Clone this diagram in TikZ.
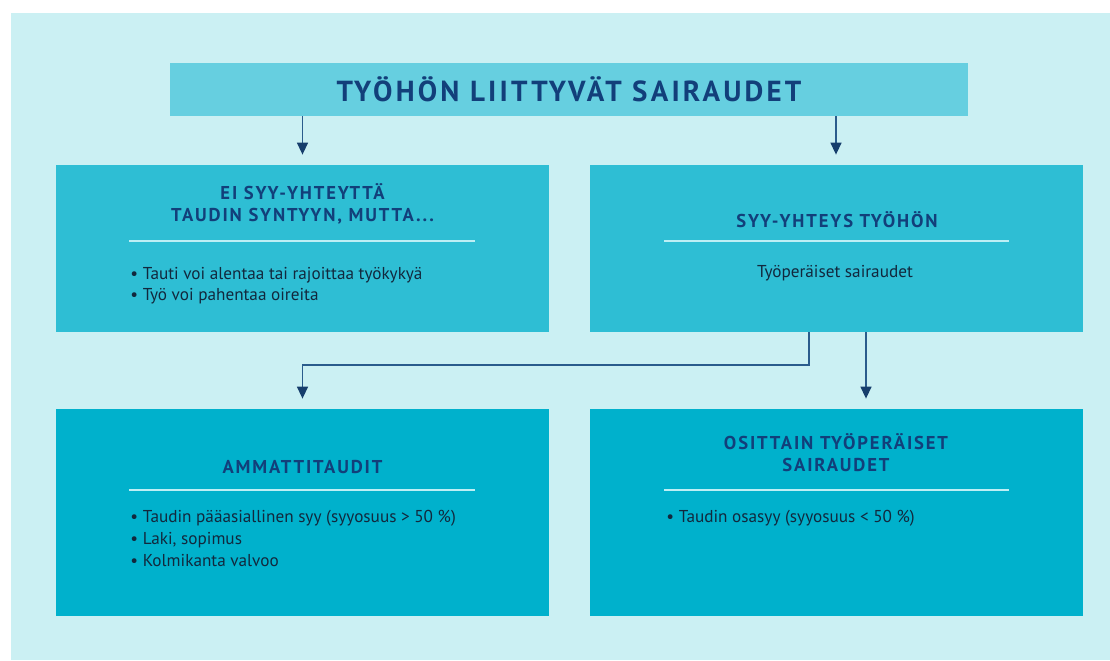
\documentclass[tikz,border=0pt]{standalone}
\usepackage{fontspec}
\setmainfont{PT Sans}
\newfontfamily\headfont[LetterSpace=10]{PT Sans}
\newfontfamily\titlefont[LetterSpace=11]{PT Sans}
\usetikzlibrary{
    arrows.meta,
    calc,
    positioning
}
\definecolor{bgcyan}{HTML}{CBF0F3}
\definecolor{titlecyan}{HTML}{66CFE0}
\definecolor{upcyan}{HTML}{2EBED4}
\definecolor{lowcyan}{HTML}{00B1CC}
\definecolor{navy}{HTML}{123F7A}
\definecolor{inkblue}{HTML}{12283D}
\definecolor{linkblue}{HTML}{2A5C8C}
\definecolor{tipblue}{HTML}{163E6C}
\definecolor{rulecyan}{HTML}{BDEFF5}

\tikzset{
    box/.style={fill=#1, inner sep=0pt, minimum width=246.5pt},
    upbox/.style={box=upcyan, minimum height=83.5pt},
    lowbox/.style={box=lowcyan, minimum height=103.5pt},
    head/.style={text=navy, align=center, font=\fontsize{9.3}{11}\headfont\bfseries},
    item/.style={text=inkblue, anchor=west, inner sep=0pt, font=\fontsize{8.6}{11}\selectfont},
    rule/.style={rulecyan, line width=1pt},
    link/.style={draw=linkblue, line width=0.7pt, -{Triangle[width=5.5pt,length=6pt,color=tipblue]}, shorten >=5pt}
}

\begin{document}
\begin{tikzpicture}[x=0.5pt, y=-0.5pt]
    \useasboundingbox (0,0) rectangle (1110,660);
    \fill[bgcyan] (11,13) rectangle (1110,660);

    \node[fill=titlecyan, minimum width=399pt, minimum height=26.5pt, inner sep=0pt,
          text=navy, font=\fontsize{14.5}{16}\titlefont\bfseries] (title) at (569,89.5) {TYÖHÖN LIITTYVÄT SAIRAUDET};

    \node[upbox] (tl) at (302.5,248.5) {};
    \node[upbox] (tr) at (836,248.5) {};
    \node[lowbox] (bl) at (302.5,512.5) {};
    \node[lowbox] (br) at (836,512.5) {};

    % headings
    \node[head] (tlhead) at (302.5,204) {EI SYY-YHTEYTTÄ\\TAUDIN SYNTYYN, MUTTA...};
    \node[head] (trhead) at (837,220) {SYY-YHTEYS TYÖHÖN};
    \node[head] (blhead) at (302.5,467) {AMMATTITAUDIT};
    \node[head] (brhead) at (836,452.5) {OSITTAIN TYÖPERÄISET\\SAIRAUDET};

    \draw[rule] (129,241) -- (475,241);
    \draw[rule] (664,241) -- (1009,241);
    \draw[rule] (129,490) -- (475,490);
    \draw[rule] (664,490) -- (1009,490);

    % texts
    \node[item] (tl1) at (130,275) {• Tauti voi alentaa tai rajoittaa työkykyä};
    \node[item] (tl2) at (130,296) {• Työ voi pahentaa oireita};
    \node[item, anchor=center] (tr1) at (835,273) {Työperäiset sairaudet};
    \node[item] (bl1) at (130,518) {• Taudin pääasiallinen syy (syyosuus > 50 \%)};
    \node[item] (bl2) at (130,540) {• Laki, sopimus};
    \node[item] (bl3) at (130,561) {• Kolmikanta valvoo};
    \node[item] (br1) at (666,518) {• Taudin osasyy (syyosuus < 50 \%)};

    % arrows
    \coordinate (s1) at (809,332);
    \coordinate (s2) at (866,332);
    \draw[link] (title.south -| tl.north) -- (tl.north);
    \draw[link] (title.south -| tr.north) -- (tr.north);
    \draw[link] (s1) -- (s1 |- 0,365) -| (bl.north);
    \draw[link] (s2) -- (s2 |- br.north);
\end{tikzpicture}
\end{document}
